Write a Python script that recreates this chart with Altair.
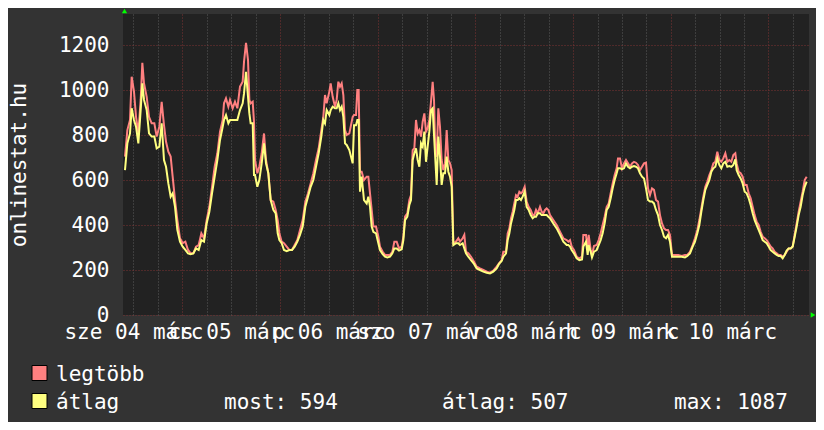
import json
import pandas as pd
import altair as alt

# time in hours since 2009-03-05 00:00
hours = [
    -14.08, -13.50, -12.85, -12.44, -11.87, -11.37, -10.80, -10.23, -9.82, -9.41,
    -8.75, -8.18, -7.53, -6.87, -6.30, -5.64, -5.07, -4.50, -4.00, -3.43,
    -2.86, -2.37, -1.79, -1.22, -0.57, 0.09, 0.75, 1.40, 2.05, 2.71,
    3.36, 4.02, 4.68, 5.33, 5.98, 6.64, 7.30, 7.95, 8.61, 9.26,
    9.92, 10.24, 10.73, 11.31, 11.72, 12.37, 12.94, 13.52, 14.17, 14.83,
    15.16, 15.65, 16.14, 16.47, 16.79, 17.29, 17.61, 17.86, 18.43, 18.92,
    19.50, 20.07, 20.56, 21.13, 21.71, 22.36, 22.94, 23.43, 23.84, 24.41,
    24.98, 25.64, 26.29, 26.95, 27.60, 28.26, 28.91, 29.57, 30.22, 30.88,
    31.53, 32.19, 32.84, 33.50, 34.15, 34.64, 35.05, 35.46, 36.12, 36.45,
    36.94, 37.51, 37.92, 38.33, 38.74, 39.15, 39.56, 39.97, 40.38, 41.03,
    41.85, 42.18, 42.67, 42.99, 43.32, 43.65, 44.06, 44.63, 45.29, 45.70,
    46.11, 46.52, 46.93, 47.58, 48.16, 48.56, 49.22, 49.79, 50.37, 51.02,
    51.60, 52.09, 52.66, 53.23, 53.89, 54.30, 54.71, 55.28, 55.77, 56.18,
    56.59, 57.00, 57.41, 57.82, 58.23, 58.64, 59.05, 59.46, 59.86, 60.27,
    60.68, 61.09, 61.50, 61.83, 62.16, 62.49, 62.89, 63.30, 63.71, 64.12,
    64.53, 64.94, 65.35, 65.76, 66.17, 66.58, 67.23, 67.81, 68.21, 68.87,
    69.28, 69.69, 70.26, 70.92, 71.66, 72.31, 73.13, 73.95, 74.77, 75.59,
    76.40, 77.22, 77.80, 78.45, 78.86, 79.52, 79.93, 80.34, 80.75, 81.15,
    81.56, 81.97, 82.38, 82.79, 83.20, 83.61, 84.10, 84.59, 85.08, 85.58,
    86.07, 86.48, 86.89, 87.30, 87.87, 88.28, 88.69, 89.10, 89.51, 89.92,
    90.33, 91.14, 91.96, 92.78, 93.60, 94.42, 94.83, 95.24, 95.65, 96.22,
    96.88, 97.53, 98.19, 98.51, 99.17, 99.58, 99.82,
    100.32, 100.64, 101.13, 101.79, 102.28, 102.77, 103.26, 103.75, 104.25, 104.74,
    105.23, 105.72, 106.21, 106.70, 107.03, 107.52, 108.01, 108.50, 108.99, 109.49,
    109.98, 110.47, 110.96, 111.45, 111.94, 112.43, 112.93, 113.42, 113.91, 114.40,
    114.89, 115.38, 115.87, 116.36, 116.86, 117.35, 117.84, 118.33, 118.82, 119.31,
    119.80, 120.30, 121.03, 121.85, 122.67, 123.49, 124.06, 124.71, 125.37, 125.94,
    126.52, 127.01, 127.50, 127.99, 128.48, 128.97, 129.47, 129.96, 130.45, 130.94,
    131.43, 131.92, 132.41, 132.90, 133.40, 133.89, 134.38, 134.87, 135.36, 135.85,
    136.18, 136.67, 137.16, 137.65, 138.15, 138.64, 139.13, 139.62, 140.11, 140.60,
    141.09, 141.58, 142.08, 142.57, 143.06, 143.55, 144.04, 144.53, 145.02, 145.52,
    146.01, 146.50, 146.99, 147.48, 147.97, 148.46, 148.95, 149.45, 149.94, 150.43,
    150.92, 151.41, 151.90, 152.39, 152.89, 153.38,
]

max_vals = [
    704, 822, 867, 1059, 993, 881, 807, 956, 1121, 1030,
    970, 881, 852, 852, 793, 837, 948, 844, 770, 726,
    704, 615, 511, 422, 341, 319, 326, 289, 274, 274,
    304, 311, 363, 341, 422, 481, 570, 659, 719, 815,
    867, 941, 963, 926, 956, 919, 948, 919, 1015, 1037,
    1126, 1210, 1133, 956, 941, 948, 859, 689, 630, 659,
    719, 807, 689, 630, 511, 504, 467, 422, 363, 326,
    319, 304, 289, 289, 311, 333, 378, 422, 504, 541,
    585, 630, 689, 741, 822, 881, 978, 941, 993, 1030,
    970, 926, 956, 1037, 1015, 1030, 978, 822, 800, 807,
    881, 889, 889, 1000, 1000, 637, 637, 600, 615, 615,
    541, 467, 393, 393, 348, 304, 281, 267, 267, 267,
    281, 326, 326, 296, 304, 348, 437, 452, 511, 533,
    733, 741, 867, 807, 822, 793, 859, 896, 815, 830,
    867, 948, 1037, 956, 719, 704, 919, 837, 689, 644,
    674, 822, 689, 674, 644, 319, 326, 341, 326, 341,
    356, 281, 274, 259, 237, 215, 207, 200, 193, 188,
    197, 215, 230, 244, 281, 281, 363, 385, 430, 459,
    496, 533, 526, 548, 541, 548, 570, 504, 481, 467,
    444, 444, 467, 452, 481, 459, 452, 467, 474, 467,
    444, 422, 400, 370, 341, 333, 326, 333, 304, 289,
    259, 252, 259, 356, 356, 289, 356,
    289, 267, 307, 311, 333, 363, 400, 437, 481, 496,
    541, 585, 622, 652, 696, 696, 652, 674, 689, 674,
    659, 674, 681, 677, 667, 644, 659, 674, 677, 563,
    533, 563, 556, 511, 504, 444, 407, 385, 378, 378,
    356, 267, 267, 267, 262, 267, 267, 281, 311, 341,
    378, 422, 474, 526, 570, 593, 622, 644, 674, 681,
    726, 689, 681, 696, 719, 681, 689, 681, 711, 719,
    674, 637, 630, 615, 578, 578, 541, 519, 481, 444,
    415, 400, 370, 348, 341, 333, 319, 304, 296, 281,
    274, 267, 267, 259, 267, 281, 296, 296, 304, 356,
    407, 459, 504, 548, 600, 615,
]

avg_vals = [
    644, 763, 807, 919, 867, 837, 763, 911, 1030, 956,
    911, 807, 793, 793, 741, 748, 852, 689, 659, 585,
    526, 541, 481, 378, 326, 304, 289, 274, 270, 274,
    296, 289, 333, 326, 407, 459, 541, 615, 689, 778,
    837, 867, 889, 852, 867, 867, 867, 867, 911, 941,
    985, 1081, 970, 896, 852, 852, 622, 622, 570, 600,
    674, 763, 674, 630, 511, 467, 452, 363, 333, 319,
    289, 284, 289, 289, 304, 326, 356, 393, 481, 526,
    570, 600, 659, 719, 793, 867, 852, 911, 889, 911,
    926, 919, 919, 941, 911, 926, 881, 763, 756, 733,
    674, 844, 844, 867, 867, 548, 615, 511, 496, 526,
    481, 393, 370, 363, 319, 289, 271, 259, 256, 259,
    274, 296, 296, 286, 292, 333, 422, 437, 489, 511,
    689, 719, 741, 689, 659, 763, 748, 815, 681, 748,
    815, 911, 919, 800, 689, 578, 793, 704, 578, 630,
    630, 704, 637, 615, 570, 311, 319, 319, 311, 319,
    296, 274, 259, 244, 227, 207, 200, 193, 188, 185,
    193, 207, 227, 240, 259, 274, 333, 363, 407, 437,
    467, 511, 511, 519, 511, 526, 548, 481, 467, 444,
    430, 437, 437, 452, 452, 444, 444, 444, 444, 437,
    430, 407, 385, 356, 326, 311, 311, 304, 289, 274,
    252, 244, 247, 304, 326, 267, 311,
    281, 256, 281, 289, 311, 333, 363, 407, 467, 481,
    519, 563, 600, 630, 652, 652, 648, 652, 674, 659,
    652, 659, 662, 659, 652, 630, 615, 607, 563, 511,
    504, 504, 496, 467, 444, 400, 378, 348, 341, 356,
    326, 259, 259, 259, 259, 256, 262, 274, 304, 326,
    363, 400, 459, 511, 556, 578, 600, 637, 652, 659,
    696, 667, 652, 674, 681, 659, 662, 659, 667, 692,
    644, 622, 607, 585, 548, 541, 519, 489, 452, 422,
    400, 378, 356, 333, 326, 319, 304, 289, 281, 274,
    267, 262, 262, 252, 267, 286, 296, 296, 304, 348,
    393, 444, 481, 533, 570, 593,
]

day_labels = ["sze 04 márc", "cs 05 márc", "p 06 márc", "szo 07 márc",
              "v 08 márc", "h 09 márc", "k 10 márc"]
first_label_hour = -12
x_domain = [-14.57, 153.95]
x_grid = list(range(-12, 154, 6))
y_domain = [0, 1338]
y_ticks = list(range(0, 1400, 100))
series_names = ["legtöbb", "átlag"]
series_colors = ["#FF8080", "#FFFF80"]
stat_names = ["most", "átlag", "max"]
stat_values = [594, 507, 1087]
y_title = "onlinestat.hu"

FONT = "DejaVu Sans Mono"
FS = 21
GRID_MAJOR = "#7c3232"
GRID_MINOR = "#5a5a5a"

df = pd.DataFrame({"h": hours, "max": max_vals, "avg": avg_vals})

label_expr_x = (
    f"(datum.value - ({first_label_hour})) % 24 === 0 ? "
    f"{json.dumps(day_labels, ensure_ascii=False)}[(datum.value - ({first_label_hour})) / 24] : ''"
)

x_enc = alt.X(
    "h:Q",
    scale=alt.Scale(domain=x_domain, nice=False, zero=False),
    axis=alt.Axis(
        values=x_grid, title=None, domain=False, ticks=False,
        grid=True,
        gridColor={"condition": {"test": "datum.value % 24 === 0", "value": GRID_MAJOR},
                   "value": GRID_MINOR},
        gridDash=[1, 2], gridWidth=1, gridOpacity=1,
        labelExpr=label_expr_x, labelOverlap=False, labelFlush=False, labelBound=False,
        labelBaseline="alphabetic", labelPadding=23,
        labelFont=FONT, labelFontSize=FS, labelColor="#FFFFFF",
    ),
)

def y_enc(field):
    return alt.Y(
        f"{field}:Q",
        scale=alt.Scale(domain=y_domain, nice=False, zero=True),
        axis=alt.Axis(
            values=y_ticks, title=y_title, domain=False, ticks=False,
            grid=True, format="d",
            gridColor={"condition": {"test": "datum.value % 200 === 0", "value": GRID_MAJOR},
                       "value": GRID_MINOR},
            gridDash=[1, 2], gridWidth=1, gridOpacity=1,
            labelExpr="datum.value % 200 === 0 ? datum.label : ''",
            labelOverlap=False, labelFlush=False, labelPadding=14,
            labelFont=FONT, labelFontSize=FS, labelColor="#FFFFFF",
            titleFont=FONT, titleFontSize=FS, titleFontWeight="normal",
            titleColor="#FFFFFF", titleAngle=270, titleBaseline="alphabetic",
            titleX=-98, titleY=150.5, titleAlign="center",
        ),
    )

base = alt.Chart(df)
line_max = base.mark_line(strokeWidth=2, color=series_colors[0]).encode(x=x_enc, y=y_enc("max"))
line_avg = base.mark_line(strokeWidth=2, color=series_colors[1]).encode(x=x_enc, y=alt.Y("avg:Q"))

one = pd.DataFrame({"k": [0]})

def txt(s, x, y):
    return alt.Chart(one).mark_text(
        text=s, font=FONT, fontSize=FS, color="#FFFFFF", align="left", baseline="alphabetic"
    ).encode(x=alt.value(x), y=alt.value(y))

def square(color, x, y):
    return alt.Chart(one).mark_square(
        size=225, filled=True, color=color, stroke="#000000", strokeWidth=1, opacity=1
    ).encode(x=alt.value(x), y=alt.value(y))

def arrow(shape, x, y):
    return alt.Chart(one).mark_point(
        shape=shape, size=28, filled=True, color="#00FF00", opacity=1
    ).encode(x=alt.value(x), y=alt.value(y))

legend_layers = [
    square(series_colors[0], -83.5, 359),
    square(series_colors[1], -83.5, 387),
    txt(series_names[0], -67, 367),
    txt(series_names[1], -67, 395),
    txt(f"{stat_names[0]}: {stat_values[0]}", 101, 395),
    txt(f"{stat_names[1]}: {stat_values[1]}", 319, 395),
    txt(f"{stat_names[2]}: {stat_values[2]}", 551, 395),
    arrow("triangle-up", 1.5, -3),
    arrow("triangle-right", 690, 301),
]

chart = alt.layer(line_max, line_avg, *legend_layers).properties(
    width=686, height=301,
    autosize=alt.AutoSizeParams(type="none"),
    padding={"left": 115, "top": 6, "right": 7, "bottom": 107},
    background="#333333",
).configure_view(fill="#222222", strokeWidth=0)

chart.save("out.html", embed_options={"renderer": "svg", "actions": False})
